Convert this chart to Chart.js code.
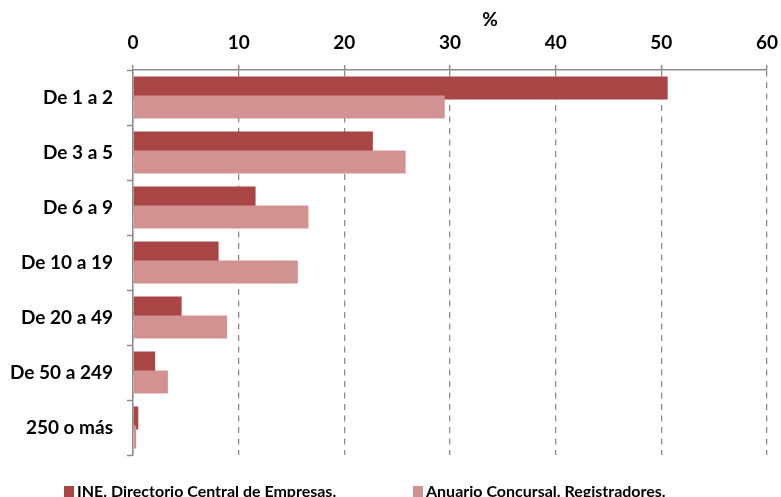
<!DOCTYPE html>
<html><head><meta charset="utf-8">
<script src="https://cdn.jsdelivr.net/npm/chart.js@4/dist/chart.umd.min.js"></script>
<style>html,body{margin:0;padding:0;background:#fff;overflow:hidden}</style>
</head><body>
<canvas id="c" width="781" height="497"></canvas>
<script>
const categories = ['De 1 a 2', 'De 3 a 5', 'De 6 a 9', 'De 10 a 19', 'De 20 a 49', 'De 50 a 249', '250 o más'];
const seriesNames = ['INE. Directorio Central de Empresas.', 'Anuario Concursal. Registradores.'];
const ineValues = [50.6, 22.7, 11.6, 8.1, 4.6, 2.1, 0.5];
const anuarioValues = [29.5, 25.8, 16.6, 15.6, 8.9, 3.3, 0.3];
const xTicks = [0, 10, 20, 30, 40, 50, 60];
const axisTitle = '%';

const FONT = 'Lato, "Open Sans", sans-serif';
const AXIS_GRAY = '#8c8c8c';

// draw datasets in order so the second series sits on top of the first
const drawOrder = {
  id: 'drawOrder',
  beforeDatasetsDraw(chart) {
    chart.data.datasets.forEach((d, i) => {
      const m = chart.getDatasetMeta(i);
      if (!m.hidden) m.controller.draw();
    });
    return false;
  }
};

// axis title and legend text
const extras = {
  id: 'extras',
  afterDraw(chart) {
    const ctx = chart.ctx;
    ctx.save();
    ctx.fillStyle = '#000';
    ctx.font = 'bold 19px ' + FONT;
    ctx.textAlign = 'center';
    ctx.textBaseline = 'middle';
    ctx.fillText(axisTitle, 490, 20);
    // legend
    ctx.font = 'bold 16px ' + FONT;
    ctx.textAlign = 'left';
    ctx.textBaseline = 'alphabetic';
    const starts = [64, 413];
    chart.data.datasets.forEach((d, i) => {
      ctx.fillStyle = d.backgroundColor;
      ctx.fillRect(starts[i], 486, 10, 11);
      ctx.fillStyle = '#000';
      ctx.fillText(d.label, starts[i] + 13, 497);
    });
    ctx.restore();
  }
};

new Chart(document.getElementById('c'), {
  type: 'bar',
  data: {
    labels: categories,
    datasets: [
      { label: seriesNames[0], data: ineValues, backgroundColor: '#a94645' },
      { label: seriesNames[1], data: anuarioValues, backgroundColor: '#d39292' }
    ]
  },
  options: {
    indexAxis: 'y',
    responsive: false,
    animation: false,
    devicePixelRatio: 1,
    categoryPercentage: 38 / 55,
    barPercentage: 23 / 19,
    layout: { padding: { top: 0, right: 14, bottom: 42, left: 0 } },
    plugins: { legend: { display: false }, tooltip: { enabled: false } },
    scales: {
      x: {
        position: 'top',
        min: xTicks[0],
        max: xTicks[xTicks.length - 1],
        afterFit(s) { s.height = 70; s.paddingLeft = 0; s.paddingRight = 0; },
        afterBuildTicks(s) { s.ticks = xTicks.map(v => ({ value: v })); },
        ticks: { color: '#000', padding: 11, font: { family: FONT, size: 19, weight: 'bold' } },
        grid: { color: AXIS_GRAY, lineWidth: 1.3, tickLength: 5, tickColor: AXIS_GRAY, tickWidth: 1.5 },
        border: { display: true, color: AXIS_GRAY, width: 1.5, dash: [6, 5.5] }
      },
      y: {
        afterFit(s) { s.width = 133; s.paddingTop = 0; s.paddingBottom = 0; },
        ticks: { color: '#000', padding: 14, font: { family: FONT, size: 19, weight: 'bold' } },
        grid: { offset: true, drawOnChartArea: false, tickLength: 6, tickColor: AXIS_GRAY, tickWidth: 1.5 },
        border: { display: true, color: AXIS_GRAY, width: 1.5 }
      }
    }
  },
  plugins: [drawOrder, extras]
});
</script>
</body></html>
